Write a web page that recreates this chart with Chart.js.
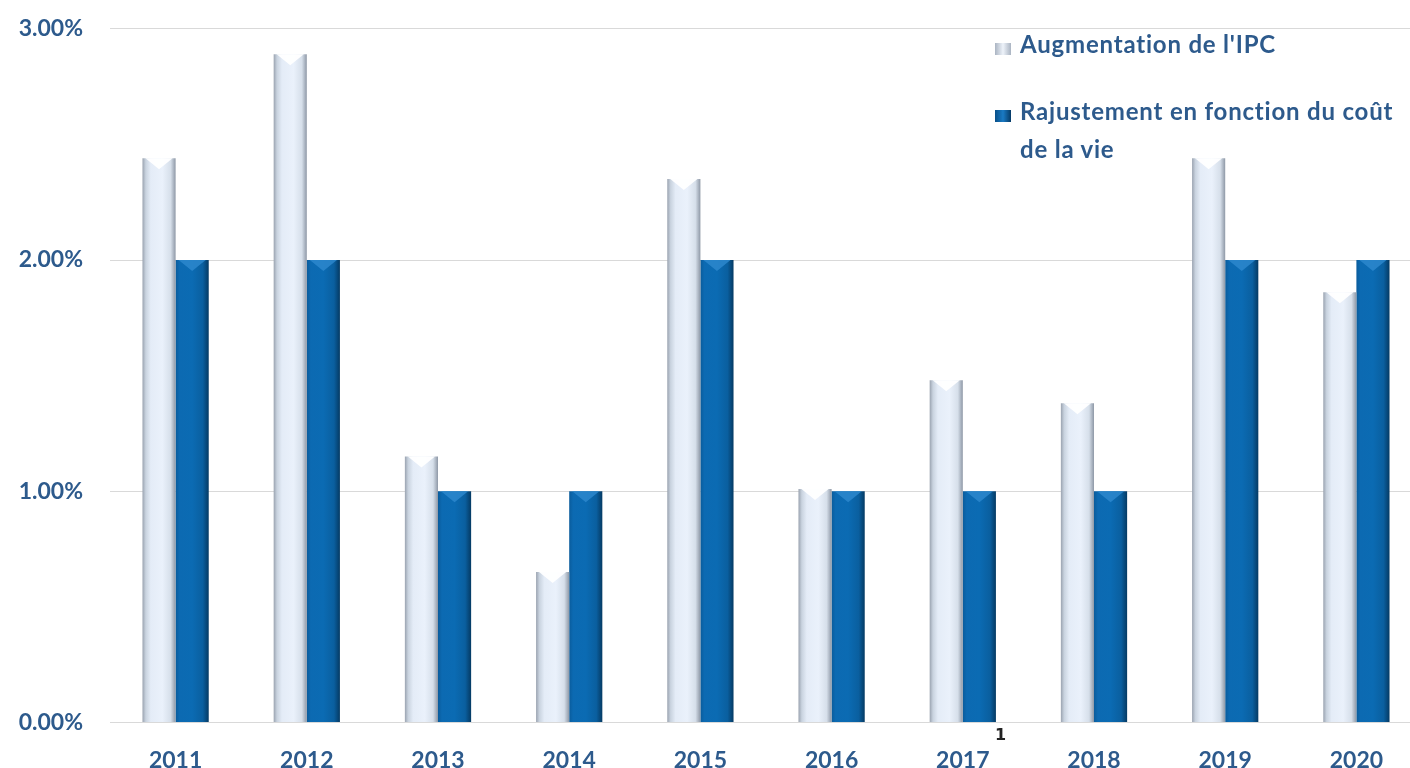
<!DOCTYPE html>
<html>
<head>
<meta charset="utf-8">
<script src="https://cdn.jsdelivr.net/npm/chart.js@4.4.1/dist/chart.umd.min.js"></script>
<style>
  html, body { margin:0; padding:0; background:#ffffff; overflow:hidden; width:1410px; height:768px; }
  #wrap { position:relative; width:1410px; height:768px; overflow:hidden; }
  #c { position:absolute; left:0; top:-12px; }
  #legend { position:absolute; left:995px; top:25px; font-family:Lato, "Open Sans", sans-serif; font-weight:bold; font-size:24px; letter-spacing:0.8px; color:#2d5a8c; }
  .item { position:relative; padding-left:25px; line-height:38px; }
  .box { position:absolute; left:0; top:18px; width:16px; height:12px; }
  #stray { position:absolute; left:995px; top:725px; font-family:"DejaVu Sans", sans-serif; font-weight:bold; font-size:16px; color:#222; }
</style>
</head>
<body>
<div id="wrap">
  <canvas id="c" width="1422" height="802"></canvas>
  <div id="legend"></div>
  <div id="stray">1</div>
</div>
<script>
const categories = ["2011","2012","2013","2014","2015","2016","2017","2018","2019","2020"];
const ipcIncrease = [2.44, 2.89, 1.15, 0.65, 2.35, 1.01, 1.48, 1.38, 2.44, 1.86];
const colAdjustment = [2.00, 2.00, 1.00, 1.00, 2.00, 1.00, 1.00, 1.00, 2.00, 2.00];
const seriesNames = ["Augmentation de l'IPC", "Rajustement en fonction du coût de la vie"];
const yTicks = [0, 1, 2, 3];

const CAT_PCT = 0.505;
function barGradient(ctx, stops, side) {
  const chart = ctx.chart;
  const xs = chart.scales && chart.scales.x;
  if (!xs || ctx.dataIndex === undefined || !xs.width) return stops[2][1];
  const center = xs.getPixelForValue(ctx.dataIndex);
  const w = xs.width / categories.length * CAT_PCT / 2;
  const x0 = side === 0 ? center - w : center;
  const g = chart.ctx.createLinearGradient(x0, 0, x0 + w, 0);
  stops.forEach(s => g.addColorStop(s[0], s[1]));
  return g;
}
const lightStops = [[0,'#9aa3b0'],[0.1,'#c9d3df'],[0.25,'#e4ecf7'],[0.6,'#eaf1fb'],[0.85,'#d6dfea'],[1,'#8e98a6']];
const darkStops = [[0,'#0a5c9c'],[0.12,'#0c6ab2'],[0.5,'#0b6bb3'],[0.82,'#0a5f9f'],[1,'#053a63']];

const chevronPlugin = {
  id: 'chevron',
  afterDatasetsDraw(chart) {
    const c = chart.ctx;
    chart.data.datasets.forEach((ds, di) => {
      const meta = chart.getDatasetMeta(di);
      meta.data.forEach(bar => {
        const w = bar.width, x = bar.x, y = bar.y;
        c.save();
        c.fillStyle = di === 0 ? 'rgba(255,255,255,0.95)' : 'rgba(45,135,205,0.85)';
        c.beginPath();
        c.moveTo(x - w/2 + 3, y);
        c.lineTo(x + w/2 - 3, y);
        c.lineTo(x, y + 11);
        c.closePath();
        c.fill();
        c.restore();
      });
    });
  }
};

const axisFont = { family: 'Lato, "Open Sans", sans-serif', size: 23, weight: 'bold' };

const chart = new Chart(document.getElementById('c'), {
  type: 'bar',
  data: {
    labels: categories,
    datasets: [
      { label: seriesNames[0], data: ipcIncrease,
        backgroundColor: ctx => barGradient(ctx, lightStops, 0),
        categoryPercentage: CAT_PCT, barPercentage: 1.0 },
      { label: seriesNames[1], data: colAdjustment,
        backgroundColor: ctx => barGradient(ctx, darkStops, 1),
        categoryPercentage: CAT_PCT, barPercentage: 1.0 }
    ]
  },
  plugins: [chevronPlugin],
  options: {
    responsive: false,
    animation: false,
    layout: { padding: { top: 5, right: 0, bottom: 0, left: 0 } },
    plugins: { legend: { display: false }, tooltip: { enabled: false } },
    scales: {
      x: {
        grid: { display: false },
        border: { display: true, color: '#d9d9d9', width: 1 },
        ticks: { color: '#2d5a8c', font: axisFont, padding: 16 }
      },
      y: {
        min: 0, max: 3,
        afterBuildTicks: s => { s.ticks = yTicks.map(v => ({ value: v })); },
        afterFit: s => { s.width = 110; },
        grid: { color: '#d9d9d9', lineWidth: 1, drawTicks: false },
        border: { display: false },
        ticks: { color: '#2d5a8c', font: axisFont, padding: 27,
                 callback: v => Number(v).toFixed(2) + '%' }
      }
    }
  }
});

const legend = document.getElementById('legend');
const boxColors = ['linear-gradient(90deg,#aab4c2,#eef3fa,#aab4c2)', 'linear-gradient(90deg,#084f88,#1a7ac4,#063a66)'];
const legendTexts = ["Augmentation de l'IPC", "Rajustement en fonction du coût<br>de la vie"];
legendTexts.forEach((t, i) => {
  const d = document.createElement('div');
  d.className = 'item';
  d.style.marginBottom = i === 0 ? '29px' : '0';
  d.innerHTML = '<span class="box" style="background:' + boxColors[i] + '"></span>' + t;
  legend.appendChild(d);
});
</script>
</body>
</html>
